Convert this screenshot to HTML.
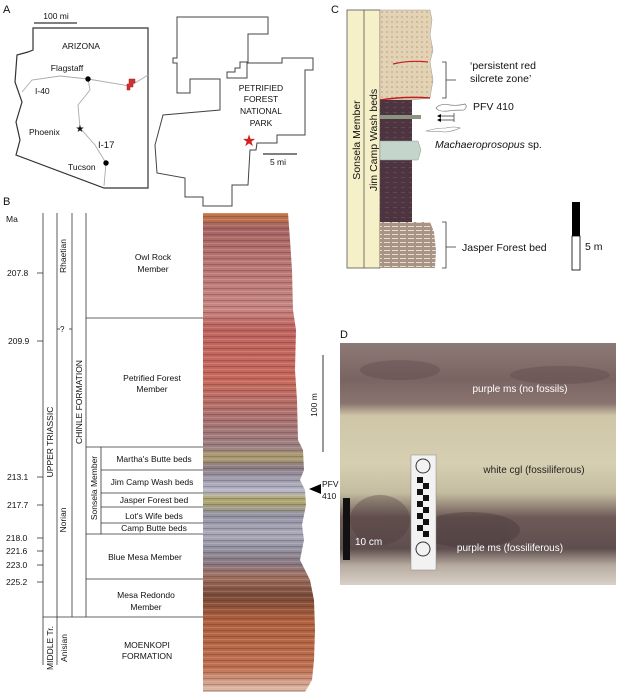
<!DOCTYPE html>
<html><head><meta charset="utf-8"><style>
html,body{margin:0;padding:0;background:#fff}
svg{display:block}
text{font-family:"Liberation Sans",Arial,sans-serif;fill:#111}
</style></head><body>
<svg width="618" height="700" viewBox="0 0 618 700" xmlns="http://www.w3.org/2000/svg">
<defs>
<linearGradient id="col" x1="0" y1="213" x2="0" y2="692" gradientUnits="userSpaceOnUse">
<stop offset="0" stop-color="#c8783f"/>
<stop offset="0.03" stop-color="#a86462"/>
<stop offset="0.1" stop-color="#b87672"/>
<stop offset="0.2" stop-color="#c88682"/>
<stop offset="0.24" stop-color="#c06460"/>
<stop offset="0.35" stop-color="#c86a5c"/>
<stop offset="0.44" stop-color="#a87474"/>
<stop offset="0.49" stop-color="#9c8282"/>
<stop offset="0.51" stop-color="#b0a070"/>
<stop offset="0.53" stop-color="#8c7c84"/>
<stop offset="0.56" stop-color="#a4a4b6"/>
<stop offset="0.58" stop-color="#b8b8c8"/>
<stop offset="0.6" stop-color="#b0a868"/>
<stop offset="0.63" stop-color="#9494a6"/>
<stop offset="0.67" stop-color="#aaaabb"/>
<stop offset="0.7" stop-color="#9494a4"/>
<stop offset="0.73" stop-color="#8a7a84"/>
<stop offset="0.76" stop-color="#a07060"/>
<stop offset="0.8" stop-color="#7a4a38"/>
<stop offset="0.85" stop-color="#b0603e"/>
<stop offset="0.95" stop-color="#c07050"/>
<stop offset="1" stop-color="#e0c0b0"/>
</linearGradient>
<pattern id="stripes" width="10" height="6" patternUnits="userSpaceOnUse">
<rect width="10" height="1.2" fill="#3a2020" opacity="0.25"/>
<rect y="3" width="10" height="0.8" fill="#fff" opacity="0.18"/>
</pattern>
<linearGradient id="photo" x1="0" y1="343" x2="0" y2="585" gradientUnits="userSpaceOnUse">
<stop offset="0" stop-color="#8c7a76"/>
<stop offset="0.15" stop-color="#7a6462"/>
<stop offset="0.25" stop-color="#8a7470"/>
<stop offset="0.3" stop-color="#cfc6a8"/>
<stop offset="0.5" stop-color="#d6cfb2"/>
<stop offset="0.62" stop-color="#c4bca0"/>
<stop offset="0.72" stop-color="#6e5a58"/>
<stop offset="0.85" stop-color="#5e4e4e"/>
<stop offset="0.92" stop-color="#b8aca0"/>
<stop offset="1" stop-color="#d8d0c8"/>
</linearGradient>
<pattern id="dots" width="5" height="5" patternUnits="userSpaceOnUse"><circle cx="2" cy="2" r="0.6" fill="#9a8060"/></pattern>
<pattern id="bricks" width="8" height="5" patternUnits="userSpaceOnUse"><rect width="8" height="5" fill="#4e3440"/><rect x="1" y="2" width="4" height="0.7" fill="#6a5058"/></pattern>
<pattern id="jf" width="8" height="4" patternUnits="userSpaceOnUse"><rect width="8" height="4" fill="#a89484"/><rect y="2" width="6" height="1" fill="#e8dcd0"/></pattern>
</defs>

<!-- Panel A -->
<text x="3" y="13" font-size="11">A</text>
<line x1="34" y1="23" x2="77" y2="23" stroke="#000" stroke-width="1"/>
<text x="56" y="19" font-size="8.5" text-anchor="middle">100 mi</text>
<polygon points="33,28 148,28 148,188 104,188 16,155 20,140 16,122 22,102 15,82 17,55 28,52 33,50" fill="none" stroke="#333" stroke-width="1.2"/>
<polyline points="22,92 32,80 60,76 88,79 130,86 148,75" fill="none" stroke="#aaa" stroke-width="0.9"/>
<polyline points="88,79 90,90 78,105 80,128 95,145 106,163 104,186" fill="none" stroke="#aaa" stroke-width="0.9"/>
<text x="81" y="49" font-size="8.5" text-anchor="middle">ARIZONA</text>
<text x="67" y="71" font-size="8.5" text-anchor="middle">Flagstaff</text>
<text x="35" y="94" font-size="8.5">I-40</text>
<text x="29" y="135" font-size="8.5">Phoenix</text>
<text x="98" y="148" font-size="9.5">I-17</text>
<text x="68" y="170" font-size="8.5">Tucson</text>
<circle cx="88" cy="79" r="2.7" fill="#000"/>
<circle cx="106" cy="163" r="2.7" fill="#000"/>
<text x="80" y="132" font-size="10" text-anchor="middle">★</text>
<path d="M129,79 h6 v4 h-2 v4 h-3 v3 h-3 v-6 h2z" fill="#d43030" stroke="#a02020" stroke-width="0.5"/>
<polygon points="177,17 268,17 268,34 248,34 248,62 240,62 240,68 235,68 235,72 227,72 227,78 247,78 247,63 282,63 282,58 313,58 313,70 305,70 305,135 277,135 277,143 257,143 256,150 250,150 248,185 232,185 232,206 203,206 203,197 185,197 185,178 157,173 155,145 163,115 220,110 220,79 190,79 190,93 177,93 177,63 173,63 173,58 177,58" fill="none" stroke="#444" stroke-width="1"/>
<text font-size="8.5" text-anchor="middle"><tspan x="261" y="91">PETRIFIED</tspan><tspan x="261" y="102">FOREST</tspan><tspan x="261" y="114">NATIONAL</tspan><tspan x="261" y="126">PARK</tspan></text>
<text x="249" y="146" font-size="16" text-anchor="middle" style="fill:#d42020">★</text>
<line x1="263" y1="154" x2="297" y2="154" stroke="#000"/>
<text x="278" y="165" font-size="8.5" text-anchor="middle">5 mi</text>

<!-- Panel B -->
<text x="3" y="205" font-size="11">B</text>
<text x="6" y="222" font-size="8.5">Ma</text>
<g stroke="#333" stroke-width="0.8" fill="none">
<line x1="43" y1="213" x2="43" y2="665"/>
<line x1="57" y1="213" x2="57" y2="665"/>
<line x1="72" y1="213" x2="72" y2="617"/>
<line x1="86" y1="213" x2="86" y2="617"/>
<line x1="101" y1="447" x2="101" y2="534"/>
<line x1="86" y1="318" x2="203" y2="318"/>
<line x1="86" y1="447" x2="203" y2="447"/>
<line x1="101" y1="470" x2="203" y2="470"/>
<line x1="101" y1="493" x2="203" y2="493"/>
<line x1="101" y1="507" x2="203" y2="507"/>
<line x1="101" y1="523" x2="203" y2="523"/>
<line x1="86" y1="534" x2="203" y2="534"/>
<line x1="86" y1="579" x2="203" y2="579"/>
<line x1="43" y1="617" x2="203" y2="617"/>
<line x1="57" y1="329" x2="60" y2="329"/><line x1="69" y1="329" x2="72" y2="329"/>
<line x1="37" y1="273" x2="43" y2="273"/>
<line x1="37" y1="341" x2="43" y2="341"/>
<line x1="37" y1="477" x2="43" y2="477"/>
<line x1="37" y1="505" x2="43" y2="505"/>
<line x1="37" y1="538" x2="43" y2="538"/>
<line x1="37" y1="551" x2="43" y2="551"/>
<line x1="37" y1="565" x2="43" y2="565"/>
<line x1="37" y1="582" x2="43" y2="582"/>
</g>
<g font-size="8.5">
<text x="7" y="276">207.8</text>
<text x="8" y="344">209.9</text>
<text x="7" y="480">213.1</text>
<text x="7" y="508">217.7</text>
<text x="6" y="541">218.0</text>
<text x="6" y="554">221.6</text>
<text x="6" y="568">223.0</text>
<text x="6" y="585">225.2</text>
<text x="60" y="332" font-size="8">?</text>
</g>
<g font-size="8.5" text-anchor="middle">
<text x="153" y="260">Owl Rock</text><text x="153" y="272">Member</text>
<text x="152" y="381">Petrified Forest</text><text x="152" y="392">Member</text>
<text x="154" y="462">Martha's Butte beds</text>
<text x="152" y="485">Jim Camp Wash beds</text>
<text x="154" y="503">Jasper Forest bed</text>
<text x="154" y="519">Lot's Wife beds</text>
<text x="154" y="531">Camp Butte beds</text>
<text x="145" y="560">Blue Mesa Member</text>
<text x="146" y="598">Mesa Redondo</text><text x="146" y="610">Member</text>
<text x="147" y="648">MOENKOPI</text><text x="147" y="659">FORMATION</text>
</g>
<g font-size="8.5" text-anchor="middle">
<text transform="translate(66,256) rotate(-90)">Rhaetian</text>
<text transform="translate(53,442) rotate(-90)">UPPER TRIASSIC</text>
<text transform="translate(82,402) rotate(-90)">CHINLE FORMATION</text>
<text transform="translate(66,520) rotate(-90)">Norian</text>
<text transform="translate(97,488) rotate(-90)">Sonsela Member</text>
<text transform="translate(53,648) rotate(-90)">MIDDLE Tr.</text>
<text transform="translate(67,648) rotate(-90)">Anisian</text>
</g>
<polygon id="cp" points="203,213 288,213 290,240 292,270 293,310 296,330 295,370 297,400 298,440 303,450 304,470 300,480 305,490 306,505 302,525 304,540 300,560 310,580 314,600 315,630 314,660 312,680 305,692 203,692" fill="url(#col)"/>
<polygon points="203,213 288,213 290,240 292,270 293,310 296,330 295,370 297,400 298,440 303,450 304,470 300,480 305,490 306,505 302,525 304,540 300,560 310,580 314,600 315,630 314,660 312,680 305,692 203,692" fill="url(#stripes)"/>
<line x1="323" y1="355" x2="323" y2="452" stroke="#333" stroke-width="1"/>
<text transform="translate(317,405) rotate(-90)" font-size="8.5" text-anchor="middle">100 m</text>
<polygon points="309,489 321,484 321,494" fill="#000"/>
<text x="322" y="487" font-size="8.5">PFV</text>
<text x="322" y="499" font-size="8.5">410</text>

<!-- Panel C -->
<text x="331" y="13" font-size="11">C</text>
<rect x="347" y="10" width="33" height="258" fill="#f6f0c8" stroke="#555" stroke-width="0.8"/>
<line x1="364" y1="10" x2="364" y2="268" stroke="#555" stroke-width="0.8"/>
<text transform="translate(360,140) rotate(-90)" font-size="10.5" text-anchor="middle">Sonsela Member</text>
<text transform="translate(377,140) rotate(-90)" font-size="10.5" text-anchor="middle">Jim Camp Wash beds</text>
<path d="M380,10 L430,10 L432,20 L430,35 L433,50 L430,62 L433,80 L430,98 L412,100 L380,100 Z" fill="#e4d2b4"/>
<path d="M380,10 L430,10 L432,20 L430,35 L433,50 L430,62 L433,80 L430,98 L412,100 L380,100 Z" fill="url(#dots)" stroke="#999" stroke-width="0.5"/>
<path d="M393,64 Q410,60 428,62" fill="none" stroke="#c02020" stroke-width="1.2"/>
<path d="M380,100 Q405,96 430,98" fill="none" stroke="#c02020" stroke-width="1.5"/>
<rect x="380" y="100" width="32" height="122" fill="url(#bricks)"/>
<rect x="380" y="115" width="41" height="4" fill="#8a9480"/>
<path d="M380,141 L418,141 L421,150 L418,160 L380,160 Z" fill="#c4d6cc" stroke="#8a9a90" stroke-width="0.5"/>
<path d="M380,222 L430,222 L434,232 L436,250 L435,268 L380,268 Z" fill="url(#jf)"/>
<path d="M442,62 h4 v36 h-4 M446,80 h10" fill="none" stroke="#333" stroke-width="0.8"/>
<text x="470" y="69" font-size="10.5">‘persistent red</text>
<text x="470" y="82" font-size="10.5">silcrete zone’</text>
<path d="M436,108 q4,-5 14,-3 q8,1 15,-1 q3,3 -1,6 q-10,0 -16,1 q-10,1 -12,-3z" fill="none" stroke="#777" stroke-width="0.7"/>
<text x="473" y="110" font-size="10.5">PFV 410</text>
<path d="M454,113 v9 M440,116 h14 M440,120 h14" stroke="#333" stroke-width="0.7"/>
<polygon points="437,116 441,114 441,118" fill="#000"/><polygon points="437,120 441,118 441,122" fill="#000"/>
<path d="M426,131 q10,-3 20,-3 q8,-2 14,0 q-6,3 -14,4 z" fill="none" stroke="#777" stroke-width="0.6"/>
<text x="435" y="148" font-size="10.5" font-style="italic">Machaeroprosopus <tspan font-style="normal">sp.</tspan></text>
<path d="M442,222 h4 v46 h-4 M446,247 h10" fill="none" stroke="#333" stroke-width="0.8"/>
<text x="462" y="251" font-size="10.5">Jasper Forest bed</text>
<rect x="572" y="202" width="8" height="34" fill="#000"/>
<rect x="572" y="236" width="8" height="34" fill="#fff" stroke="#000" stroke-width="0.8"/>
<text x="585" y="250" font-size="10.5">5 m</text>

<!-- Panel D -->
<text x="340" y="338" font-size="11">D</text>
<rect x="340" y="343" width="276" height="242" fill="url(#photo)"/>
<g opacity="0.35">
<ellipse cx="400" cy="370" rx="40" ry="10" fill="#5a4648"/>
<ellipse cx="560" cy="375" rx="50" ry="9" fill="#5a4648"/>
<ellipse cx="470" cy="530" rx="50" ry="18" fill="#3e3034"/>
<ellipse cx="380" cy="520" rx="30" ry="25" fill="#4a3a3a"/>
</g>
<text x="520" y="392" font-size="10" text-anchor="middle" style="fill:#fff">purple ms (no fossils)</text>
<text x="534" y="473" font-size="10" text-anchor="middle" style="fill:#222">white cgl (fossiliferous)</text>
<text x="510" y="551" font-size="10" text-anchor="middle" style="fill:#fff">purple ms (fossiliferous)</text>
<rect x="411" y="455" width="25" height="115" fill="#f2f2f2" stroke="#888" stroke-width="0.5"/>
<circle cx="423" cy="466" r="7" fill="none" stroke="#333"/>
<circle cx="423" cy="549" r="7" fill="none" stroke="#333"/>
<g fill="#111">
<rect x="417" y="477" width="6" height="6"/><rect x="423" y="483" width="6" height="6"/>
<rect x="417" y="489" width="6" height="6"/><rect x="423" y="495" width="6" height="6"/>
<rect x="417" y="501" width="6" height="6"/><rect x="423" y="507" width="6" height="6"/>
<rect x="417" y="513" width="6" height="6"/><rect x="423" y="519" width="6" height="6"/>
<rect x="417" y="525" width="6" height="6"/><rect x="423" y="531" width="6" height="6"/>
</g>
<rect x="343" y="498" width="7" height="62" fill="#111"/>
<text x="355" y="545" font-size="10" style="fill:#fff">10 cm</text>
</svg>
</body></html>
